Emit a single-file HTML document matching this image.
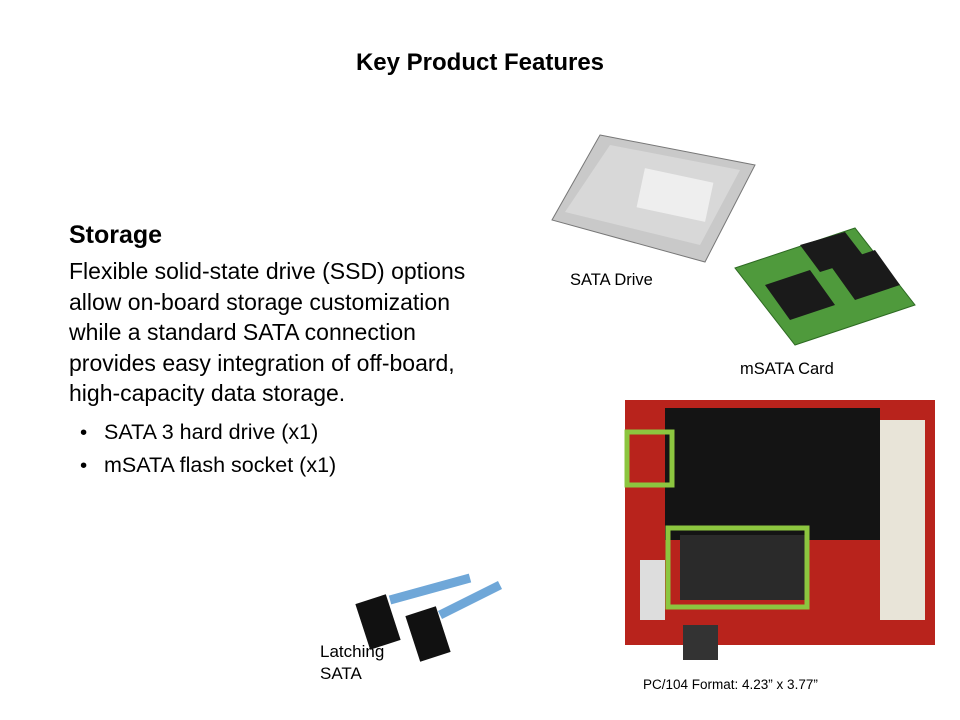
<!DOCTYPE html>
<html><head><meta charset="utf-8"><style>
body{margin:0;width:960px;height:720px;background:#fff;position:relative;overflow:hidden;font-family:"Liberation Sans",sans-serif;color:#000}
.t{position:absolute;white-space:nowrap}
</style></head><body>
<div class="t" style="left:0;width:960px;text-align:center;top:49px;font-size:24px;font-weight:bold">Key Product Features</div>
<div class="t" style="left:69px;top:221px;font-size:25px;font-weight:bold">Storage</div>
<div class="t" style="left:69px;top:256px;font-size:23px;line-height:30.5px">Flexible solid-state drive (SSD) options<br>allow on-board storage customization<br>while a standard SATA connection<br>provides easy integration of off-board,<br>high-capacity data storage.</div>
<div class="t" style="left:80px;top:416px;font-size:20.5px;line-height:33px">•</div>
<div class="t" style="left:80px;top:449px;font-size:20.5px;line-height:33px">•</div>
<div class="t" style="left:104px;top:416px;font-size:21.5px;line-height:33px">SATA 3 hard drive (x1)<br>mSATA flash socket (x1)</div>
<div class="t" style="left:570px;top:271px;font-size:16.5px">SATA Drive</div>
<div class="t" style="left:740px;top:360px;font-size:16.5px">mSATA Card</div>
<div class="t" style="left:320px;top:641px;font-size:17px;line-height:22px">Latching<br>SATA</div>
<div class="t" style="left:643px;top:677px;font-size:13.5px">PC/104 Format: 4.23” x 3.77”</div>
<svg width="960" height="720" style="position:absolute;left:0;top:0">
<polygon points="600,135 755,165 705,262 552,220" fill="#c9c9c9" stroke="#777"/>
<polygon points="610,145 740,170 700,245 565,212" fill="#d8d8d8"/>
<rect x="640" y="175" width="70" height="40" fill="#eee" transform="rotate(12 675 195)"/>
<polygon points="735,268 855,228 915,305 795,345" fill="#4f9a3c" stroke="#2d6a22"/>
<polygon points="800,245 845,232 865,258 820,272" fill="#1a1a1a"/>
<polygon points="765,285 810,270 835,305 790,320" fill="#1a1a1a"/>
<polygon points="830,265 875,250 900,285 855,300" fill="#1a1a1a"/>
<rect x="625" y="400" width="310" height="245" fill="#b8231c"/>
<rect x="665" y="408" width="215" height="132" fill="#141414"/>
<rect x="680" y="535" width="125" height="65" fill="#2a2a2a"/>
<rect x="880" y="420" width="45" height="200" fill="#e8e4d8"/>
<rect x="640" y="560" width="25" height="60" fill="#ddd"/>
<rect x="683" y="625" width="35" height="35" fill="#333"/>
<rect x="627" y="432" width="45" height="53" fill="none" stroke="#8cc63f" stroke-width="5"/>
<rect x="668" y="528" width="139" height="79" fill="none" stroke="#8cc63f" stroke-width="5"/>
<path d="M390,600 L470,578 M440,615 L500,585" stroke="#6fa7d8" stroke-width="9"/>
<rect x="362" y="598" width="32" height="48" fill="#111" transform="rotate(-18 378 622)"/>
<rect x="412" y="610" width="32" height="48" fill="#111" transform="rotate(-18 428 634)"/>
</svg>
</body></html>
